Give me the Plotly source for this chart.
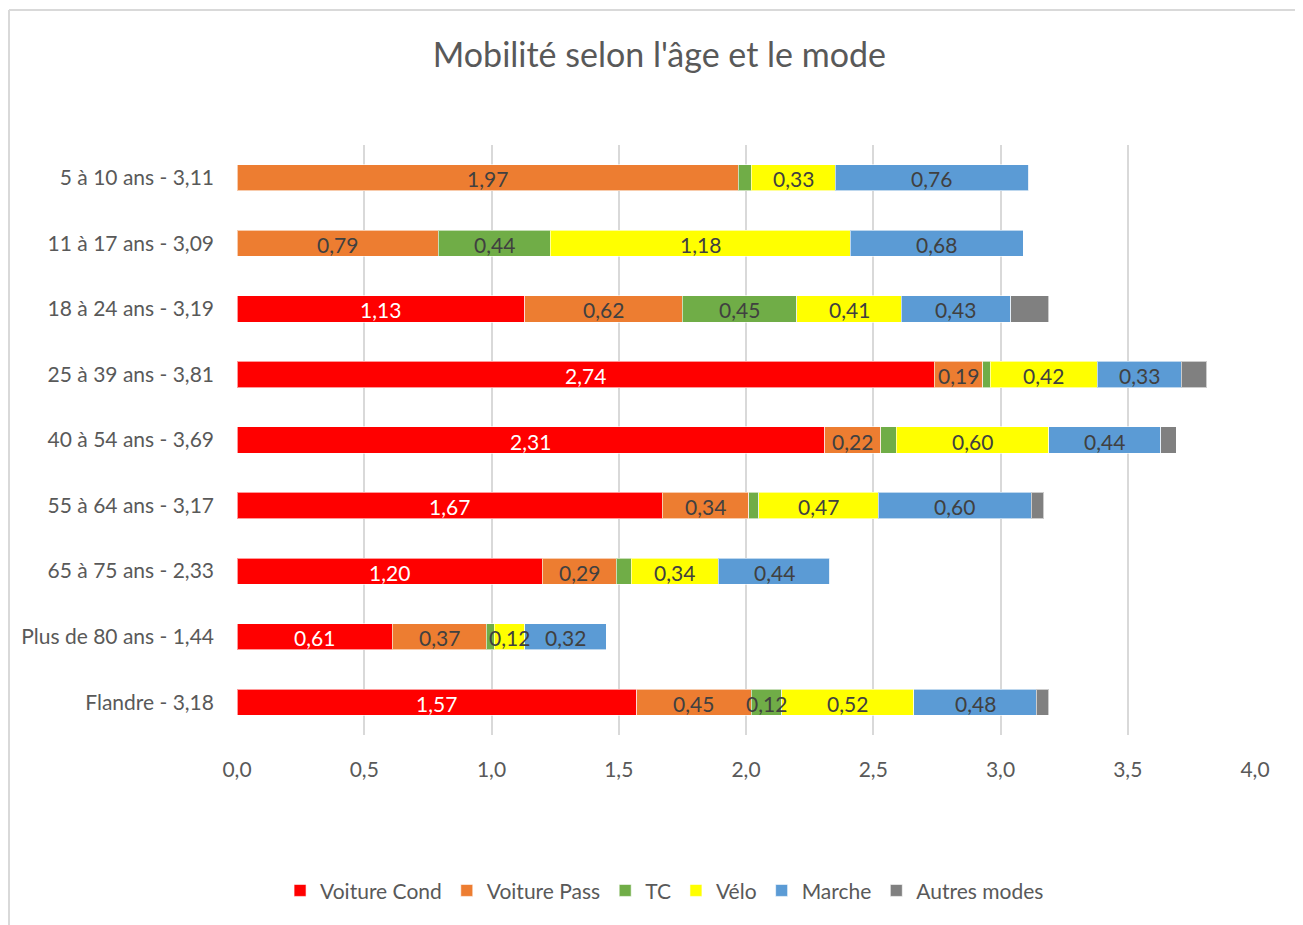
import plotly.graph_objects as go

categories = ["5 à 10 ans - 3,11", "11 à 17 ans - 3,09", "18 à 24 ans - 3,19",
              "25 à 39 ans - 3,81", "40 à 54 ans - 3,69", "55 à 64 ans - 3,17",
              "65 à 75 ans - 2,33", "Plus de 80 ans - 1,44", "Flandre - 3,18"]
series_names = ["Voiture Cond", "Voiture Pass", "TC", "Vélo", "Marche", "Autres modes"]
voiture_cond = [0.00, 0.00, 1.13, 2.74, 2.31, 1.67, 1.20, 0.61, 1.57]
voiture_pass = [1.97, 0.79, 0.62, 0.19, 0.22, 0.34, 0.29, 0.37, 0.45]
tc = [0.05, 0.44, 0.45, 0.03, 0.06, 0.04, 0.06, 0.03, 0.12]
velo = [0.33, 1.18, 0.41, 0.42, 0.60, 0.47, 0.34, 0.12, 0.52]
marche = [0.76, 0.68, 0.43, 0.33, 0.44, 0.60, 0.44, 0.32, 0.48]
autres = [0.00, 0.00, 0.15, 0.10, 0.06, 0.05, 0.00, 0.00, 0.05]
tick_vals = [0.0, 0.5, 1.0, 1.5, 2.0, 2.5, 3.0, 3.5, 4.0]

series = [voiture_cond, voiture_pass, tc, velo, marche, autres]
colors = ["#FF0000", "#ED7D31", "#70AD47", "#FFFF00", "#5B9BD5", "#808080"]
label_colors = ["#FFFFFF", "#404040", "#404040", "#404040", "#404040", None]

FONT = "Lato, 'Open Sans', sans-serif"
GREY = "#595959"

W, H = 1295, 917
L, R, T, B = 229, 48, 137, 190
PW, PH = W - L - R, H - T - B

fig = go.Figure()
annotations = []
cum = [0.0] * len(categories)
for name, vals, col, lcol in zip(series_names, series, colors, label_colors):
    fig.add_trace(go.Bar(
        y=categories, x=vals, name=name, orientation="h",
        marker=dict(color=col, line=dict(color="rgba(255,255,255,0.6)", width=1)),
        hoverinfo="x+name",
    ))
    for i, v in enumerate(vals):
        if lcol is not None and v >= 0.1:
            annotations.append(dict(
                x=cum[i] + v / 2, y=categories[i], xref="x", yref="y",
                text=f"{v:.2f}".replace(".", ","), showarrow=False,
                font=dict(family=FONT, size=21, color=lcol),
                yshift=-1,
            ))
        cum[i] += v

fig.update_layout(
    width=W, height=H,
    barmode="stack", bargap=0.6,
    separators=", ",
    paper_bgcolor="white", plot_bgcolor="white",
    font=dict(family=FONT, size=21, color=GREY),
    title=dict(text="Mobilité selon l'âge et le mode", x=0.503, xanchor="center",
               y=0.949, yanchor="middle",
               font=dict(family=FONT, size=34, color=GREY)),
    margin=dict(l=L, r=R, t=T, b=B),
    xaxis=dict(range=[0, 4.0], tickvals=tick_vals, tickformat=".1f",
               showgrid=True, gridcolor="#D9D9D9", gridwidth=2,
               zeroline=False, showline=False, ticks="",
               tickfont=dict(family=FONT, size=21, color=GREY), ticklabelstandoff=20),
    yaxis=dict(autorange="reversed", showgrid=False, ticks="", showline=False,
               tickfont=dict(family=FONT, size=21, color=GREY), ticklabelstandoff=22),
    legend=dict(orientation="h", x=0.42, xanchor="center", y=-0.264, yanchor="middle",
                font=dict(family=FONT, size=21, color=GREY), traceorder="normal",
                itemwidth=30),
    annotations=annotations,
    shapes=[
        dict(type="line", xref="paper", yref="paper",
             x0=(1 - L) / PW, x1=(W - L) / PW,
             y0=(H - B - 2) / PH, y1=(H - B - 2) / PH,
             line=dict(color="#D9D9D9", width=2)),
        dict(type="line", xref="paper", yref="paper",
             x0=(1 - L) / PW, x1=(1 - L) / PW,
             y0=-B / PH, y1=(H - B - 2) / PH,
             line=dict(color="#D9D9D9", width=2)),
    ],
)

fig.write_html("out.html")
